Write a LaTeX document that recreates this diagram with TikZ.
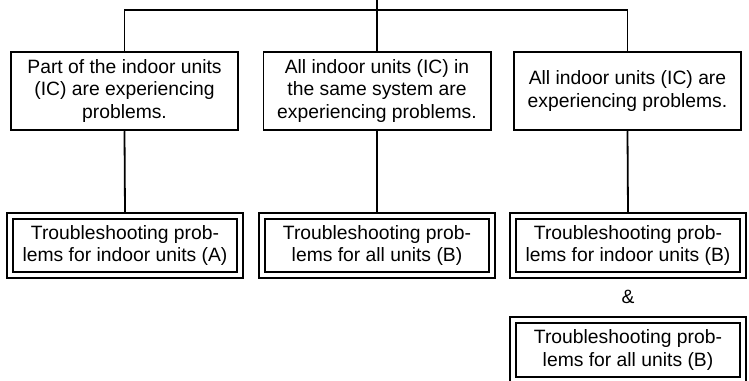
\documentclass[tikz,border=0pt]{standalone}
\usepackage{fontspec}
\setmainfont{Liberation Sans}

\begin{document}
\begin{tikzpicture}[
    x=1pt, y=1pt,
    line width=1.8pt,
    every node/.style={font=\fontsize{19.3}{22.5}\selectfont, align=center, inner sep=0pt},
    casebox/.style={draw, minimum width=227.2pt, minimum height=78.7pt},
    fixbox/.style={draw, double, double distance=4.2pt,
      minimum width=230.2pt, minimum height=59.2pt, outer sep=3pt},
  ]

  % Frame
  \clip (0,0) rectangle (749,380);

  %%% ============================================================ %%%
  %%% Symptom boxes                                                 %%%
  %%% ============================================================ %%%
  \node[casebox] (caseA) at (124.5,289)
    {Part of the indoor units\\(IC) are experiencing\\problems.};
  \node[casebox] (caseB) at (377,289)
    {All indoor units (IC) in\\the same system are\\experiencing problems.};
  \node[casebox] (caseC) at (627.5,289)
    {All indoor units (IC) are\\experiencing problems.};

  % Bus from the top
  \coordinate (root) at (377,380);
  \coordinate (bus) at (377,370);
  \draw (caseA.north) |- (bus) -| (caseC.north);
  \draw (root) -- (caseB.north);

  %%% ============================================================ %%%
  %%% Troubleshooting boxes                                         %%%
  %%% ============================================================ %%%
  \node[fixbox] (fixA) at (125,134.5)
    {Troubleshooting prob-\\lems for indoor units (A)};
  \node[fixbox] (fixB) at (377,134.5)
    {Troubleshooting prob-\\lems for all units (B)};
  \node[fixbox] (fixC) at (628,134.5)
    {Troubleshooting prob-\\lems for indoor units (B)};
  \node (andC) at (628,83) {\&};
  \node[fixbox] (fixD) at (628,30)
    {Troubleshooting prob-\\lems for all units (B)};

  % Links down
  \draw (caseA.south) -- (fixA.north);
  \draw (caseB.south) -- (fixB.north);
  \draw (caseC.south) -- (fixC.north);

\end{tikzpicture}
\end{document}
